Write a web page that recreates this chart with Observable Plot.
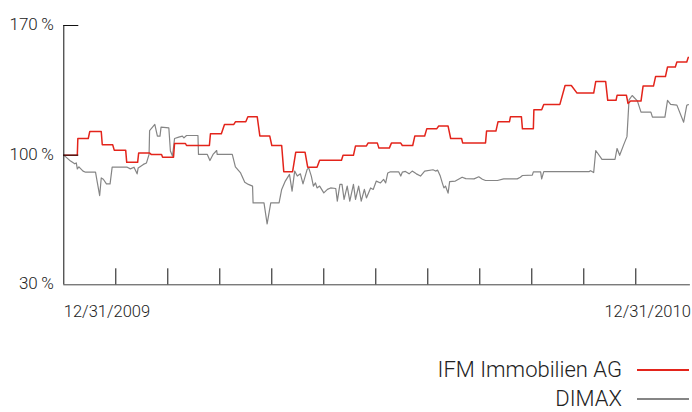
<!DOCTYPE html>
<html>
<head>
<meta charset="utf-8">
<script src="https://cdn.jsdelivr.net/npm/d3@7"></script>
<script src="https://cdn.jsdelivr.net/npm/@observablehq/plot@0.6"></script>
<style>
  body { margin: 0; background: #fff; }
  #wrap { position: relative; width: 692px; height: 412px; overflow: hidden; font-family: Roboto, "Helvetica Neue", Arial, sans-serif; font-weight: 300; color: #222; }
  .row { position: absolute; right: 3px; display: flex; align-items: center; justify-content: flex-end; height: 20px; line-height: 20px; font-size: 22px; white-space: nowrap; }
  .swatch { display: inline-block; width: 52px; height: 2.5px; margin-left: 15px; }
</style>
</head>
<body>
<div id="wrap"><div id="chart"></div></div>
<script>
// Time axis: months since 12/31/2009 (0 .. 12)
const ifmMonth = [0,0.26,0.27,0.47,0.5,0.72,0.74,0.94,0.97,1.19,1.21,1.42,1.44,1.65,1.68,1.88,1.9,2.11,2.13,2.34,2.36,2.8,2.82,3.03,3.09,3.27,3.3,3.5,3.54,3.72,3.77,3.96,4.0,4.19,4.23,4.4,4.46,4.64,4.69,4.87,4.92,5.34,5.37,5.57,5.61,5.82,5.85,6.03,6.06,6.26,6.3,6.48,6.51,6.71,6.75,6.94,6.98,7.17,7.21,7.39,7.44,7.65,7.67,8.11,8.13,8.31,8.35,8.57,8.59,8.8,8.82,9.03,9.04,9.19,9.23,9.54,9.64,9.76,9.87,10.19,10.23,10.42,10.46,10.62,10.64,10.82,10.85,10.9,11.1,11.14,11.34,11.38,11.57,11.61,11.76,11.79,11.98,12.01];
const ifmValue = [100,100,109,109,112.8,112.8,105.6,105.6,102.7,102.7,96.1,96.1,101.2,101.2,100.4,100.4,98.9,98.9,106.3,106.3,105.2,105.2,111.5,111.5,116.6,116.6,118,118,120.7,120.7,110.4,110.4,105.2,105.2,91.1,91.1,101.5,101.5,93.5,93.5,97.3,97.3,99.9,99.9,105,105,106.5,106.5,103.8,103.8,106.5,106.5,105.2,105.2,110.3,110.3,114.2,114.2,115.7,115.7,109,109,106.6,106.6,113,113,118,118,120.8,120.8,114.2,114.2,124.5,124.5,127.4,127.4,137.6,137.6,133.5,133.5,139.8,139.8,129.6,129.6,132.3,132.3,127.9,129.2,129.2,137.3,137.3,142.4,142.4,147.6,147.6,150.3,150.3,152.8];

const dimaxMonth = [0,0.13,0.21,0.24,0.26,0.29,0.37,0.42,0.61,0.64,0.69,0.72,0.76,0.82,0.89,0.93,1.22,1.28,1.35,1.41,1.43,1.53,1.59,1.64,1.65,1.75,1.8,1.85,1.87,2.02,2.05,2.09,2.13,2.21,2.28,2.31,2.36,2.58,2.59,2.76,2.81,2.87,2.94,2.95,3.24,3.3,3.4,3.48,3.55,3.63,3.64,3.85,3.91,3.98,4.14,4.19,4.26,4.34,4.39,4.44,4.49,4.55,4.6,4.68,4.71,4.76,4.8,4.84,4.87,4.92,5.0,5.07,5.13,5.23,5.26,5.31,5.35,5.39,5.45,5.5,5.57,5.61,5.67,5.72,5.78,5.82,5.9,5.95,6.01,6.09,6.15,6.19,6.23,6.28,6.44,6.48,6.51,6.57,6.64,6.7,6.78,6.86,6.94,7.1,7.15,7.19,7.24,7.28,7.31,7.34,7.39,7.42,7.53,7.66,7.73,7.89,7.98,8.05,8.11,8.34,8.46,8.72,8.78,8.82,9.01,9.03,9.17,9.19,9.23,10.1,10.13,10.19,10.23,10.35,10.6,10.64,10.69,10.77,10.83,10.87,10.93,11.03,11.1,11.29,11.32,11.56,11.61,11.67,11.79,11.92,11.98,12.01];
const dimaxValue = [100,96.8,95.3,95.8,92.6,93.7,91.4,90.8,90.8,86,78.2,87.7,87,84.5,84.5,93.5,93.5,92.6,93.5,89.9,93.1,95,95.8,100.4,113.3,116.6,110.3,110.3,115.1,114.7,102.2,99.5,109,109.7,110.3,109.3,110.6,110.6,100.4,100.4,97.1,100.4,102.5,100.4,100.4,93.7,90.4,85.4,84.2,83.3,74.2,74.2,62.9,74.2,74.2,81.5,86,89.6,80.6,91.4,88.7,89.9,84.5,92.3,93.1,88.7,83.3,85,82.3,83.3,79.6,81.5,82.3,82,75.2,84.2,84.2,76.1,83.3,75.2,84.2,76.1,83.3,75.2,81.5,76.9,82.3,81.5,86,85,86.9,85,90.4,91,91,88.7,90.8,91.2,89.9,91.4,89.9,88.7,91.4,92.1,91.4,91.9,88.7,84.9,82.3,83.3,79.5,85.7,86,88.1,87.3,87.2,88.3,87,86.3,86.3,87.2,87.2,88.1,89,89.2,91,91,87.2,91.1,91.1,91.6,90.6,102.5,97.7,97.7,103.6,99.9,105.8,110,129.9,132.2,129.3,123.2,123.2,120.5,120.5,129.6,127.4,127,117.8,126.9,127.3];

const yTicks = [30, 100, 170];
const monthTicks = [1, 2, 3, 4, 5, 6, 7, 8, 9, 10, 11];
const dateLabels = ["12/31/2009", "12/31/2010"];
const seriesNames = ["IFM Immobilien AG", "DIMAX"];
const seriesColors = ["#e3241b", "#858585"];

const ifm = ifmMonth.map((m, i) => ({m, v: ifmValue[i]}));
const dimax = dimaxMonth.map((m, i) => ({m, v: dimaxValue[i]}));

const W = 692, H = 330, mL = 63.3, mR = 4.7, mT = 25, mB = 45.7;
const frameW = W - mL - mR, frameH = H - mT - mB;

const chart = Plot.plot({
  width: W, height: H,
  marginLeft: mL, marginRight: mR, marginTop: mT, marginBottom: mB,
  x: {domain: [0, 12], axis: null},
  y: {domain: [30, 170], axis: null},
  style: {fontFamily: 'Roboto, "Helvetica Neue", Arial, sans-serif', fontWeight: 300, color: "#222", background: "white", overflow: "visible"},
  marks: [
    Plot.line(dimax, {x: "m", y: "v", stroke: seriesColors[1], strokeWidth: 1.2}),
    Plot.line(ifm, {x: "m", y: "v", stroke: seriesColors[0], strokeWidth: 1.5}),
    Plot.ruleY([30], {x1: 0, x2: 12.05, stroke: "#444"}),
    Plot.ruleX([0], {y1: 30, y2: 170, stroke: "#111"}),
    Plot.tickY(yTicks.slice(1), {y: d => d, insetRight: frameW - 15, stroke: "#111"}),
    Plot.tickX(monthTicks, {x: d => d, insetTop: frameH - 16, stroke: "#111"}),
    Plot.text(yTicks, {x: 0, y: d => d, text: d => `${d}\u2009%`, textAnchor: "end", dx: -10, dy: -1, fontSize: 17, fill: "#222"}),
    Plot.text([0], {x: d => d, y: () => 30, text: () => dateLabels[0], textAnchor: "start", dy: 27, fontSize: 16.5, fill: "#222"}),
    Plot.text([12], {x: d => d, y: () => 30, text: () => dateLabels[1], textAnchor: "end", dx: 3, dy: 27, fontSize: 16.5, fill: "#222"})
  ]
});
document.getElementById("chart").appendChild(chart);

const wrap = document.getElementById("wrap");
const rowTops = [360, 389];
seriesNames.forEach((name, i) => {
  const row = document.createElement("div");
  row.className = "row";
  row.style.top = rowTops[i] + "px";
  const label = document.createElement("span");
  label.textContent = name;
  const sw = document.createElement("span");
  sw.className = "swatch";
  sw.style.background = seriesColors[i];
  row.appendChild(label);
  row.appendChild(sw);
  wrap.appendChild(row);
});
</script>
</body>
</html>
